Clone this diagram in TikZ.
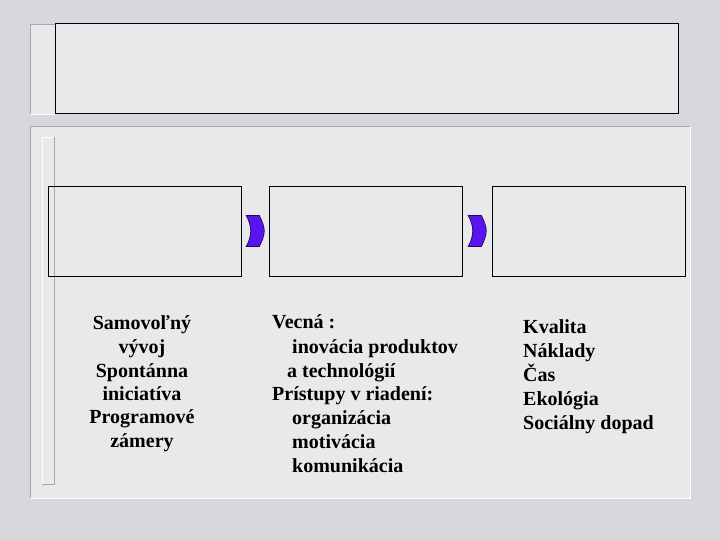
\documentclass[tikz,border=0pt]{standalone}
\usepackage{fontspec}
\setmainfont{Liberation Serif}
\usetikzlibrary{calc}
\definecolor{marble}{HTML}{D8D8DC}
\definecolor{panel}{HTML}{E9E9EB}
\definecolor{framegrey}{HTML}{A8A8AC}
\definecolor{chevfill}{HTML}{5A14F0}
\definecolor{chevline}{HTML}{1E0A5A}
\tikzset{
  box/.style={draw=black, line width=0.9pt, minimum width=193pt, minimum height=90pt, inner sep=0pt},
  lbl/.style={anchor=base west, inner sep=0pt, font=\fontsize{20}{24}\selectfont\bfseries},
  lblc/.style={anchor=base, inner sep=0pt, font=\fontsize{20}{24}\selectfont\bfseries},
  chev/.pic={
    \path[fill=chevfill, draw=chevline, line width=0.7pt]
      (-9,-15.5) -- (4,-15.5) .. controls (7,-10) and (9,-4.5) .. (9,0)
      .. controls (9,4.5) and (7,10) .. (4,15.5) -- (-9,15.5)
      .. controls (-6,10) and (-4.5,4.5) .. (-4.5,0)
      .. controls (-4.5,-4.5) and (-6,-10) .. (-9,-15.5) -- cycle;
  }
}
\begin{document}
\begin{tikzpicture}[x=1pt,y=-1pt]
\useasboundingbox (0,0) rectangle (720,540);
\fill[marble] (0,0) rectangle (720,540);
% top panel
\fill[panel] (30,24) rectangle (678,114);
\draw[framegrey, line width=0.8pt] (30,114) -- (30,24) -- (55,24);
\draw[white, line width=0.8pt] (30,114) -- (55,114);
\node[draw=black, line width=1pt, minimum width=623pt, minimum height=90pt, inner sep=0pt] (title) at (366.5,69) {};
% lower panel
\fill[panel] (30,126) rectangle (690,498);
\draw[framegrey, line width=0.8pt] (30,498) -- (30,126) -- (690,126);
\draw[white, line width=0.8pt] (30,498) -- (690,498) -- (690,126);
% strip
\draw[white, line width=0.8pt] (42,484) -- (42,137) -- (54,137);
\draw[framegrey, line width=0.8pt] (54,137) -- (54,484) -- (42,484);
% boxes
\node[box] (b1) at (144.5,231) {};
\node[box] (b2) at (366,231) {};
\node[box] (b3) at (588.5,231) {};
% chevrons
\path ($(b1.east)!0.5!(b2.west)$) coordinate (c1);
\path ($(b2.east)!0.5!(b3.west)$) coordinate (c2);
\pic at (c1) {chev};
\pic at (c2) {chev};
% column 1
\node[lblc] (t11) at (142,329) {Samovoľný};
\node[lblc] (t12) at (142,353) {vývoj};
\node[lblc] (t13) at (142,377) {Spontánna};
\node[lblc] (t14) at (142,400) {iniciatíva};
\node[lblc] (t15) at (142,423) {Programové};
\node[lblc] (t16) at (142,447) {zámery};
% column 2
\node[lbl] (t21) at (272,328) {Vecná :};
\node[lbl] (t22) at (292,353) {inovácia produktov};
\node[lbl] (t23) at (287,377) {a technológií};
\node[lbl] (t24) at (272,400) {Prístupy v riadení:};
\node[lbl] (t25) at (292,424) {organizácia};
\node[lbl] (t26) at (292,448) {motivácia};
\node[lbl] (t27) at (292,472) {komunikácia};
% column 3
\node[lbl] (t31) at (523,333) {Kvalita};
\node[lbl] (t32) at (523,357) {Náklady};
\node[lbl] (t33) at (523,381) {Čas};
\node[lbl] (t34) at (523,405) {Ekológia};
\node[lbl] (t35) at (523,429) {Sociálny dopad};
\end{tikzpicture}
\end{document}
